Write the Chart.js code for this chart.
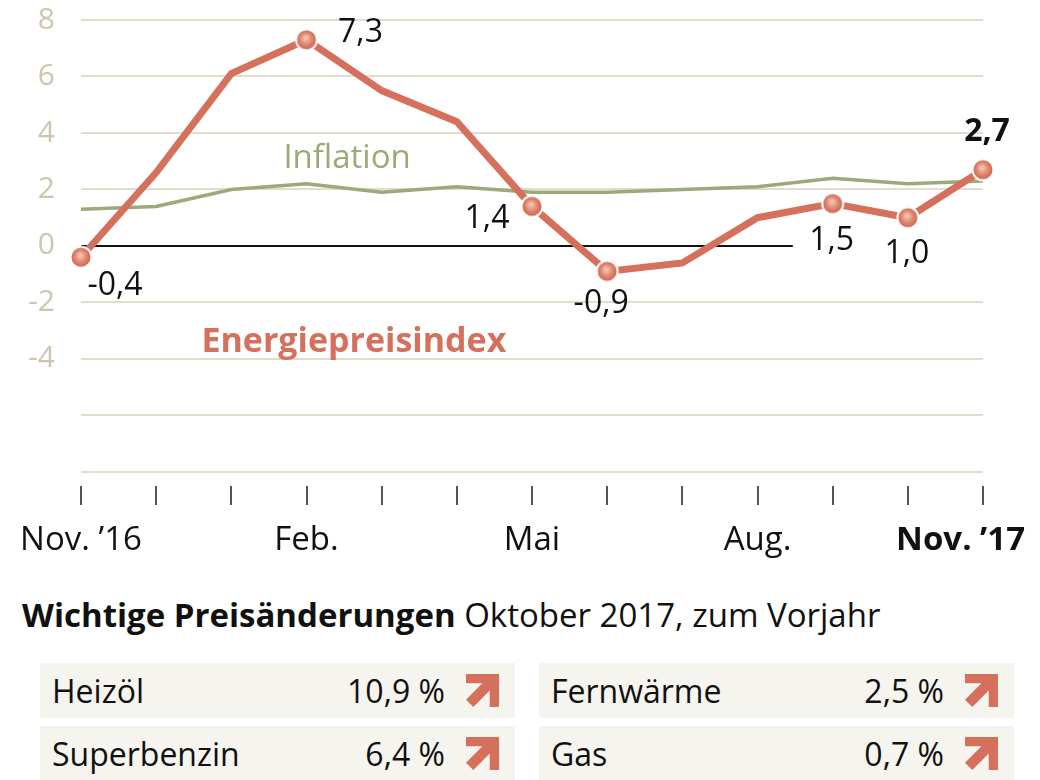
<!DOCTYPE html>
<html lang="de">
<head>
<meta charset="utf-8">
<title>Energiepreisindex</title>
<script src="https://cdn.jsdelivr.net/npm/chart.js@4.4.1/dist/chart.umd.min.js"></script>
<style>
  html, body { margin: 0; padding: 0; background: #fff; }
  body { width: 1040px; height: 780px; overflow: hidden; position: relative; font-family: 'Open Sans', sans-serif; color: #111; }
  #chartBox { position: absolute; left: 0; top: 0; width: 1040px; height: 570px; }
  #title { position: absolute; left: 22px; top: 596px; font-size: 33px; line-height: 38px; white-space: nowrap; }
  #title b { font-weight: 700; }
  .cell { position: absolute; width: 475px; height: 55px; background: #f6f4ef; font-size: 32px; }
  .cell .name { position: absolute; left: 12px; top: 0; line-height: 55px; }
  .cell .val { position: absolute; right: 70px; top: 0; line-height: 55px; }
  .cell svg { position: absolute; left: 426px; top: 11px; }
</style>
</head>
<body>
<div id="chartBox"><canvas id="chart"></canvas></div>
<div id="title"><b>Wichtige Preisänderungen</b> Oktober 2017, zum Vorjahr</div>
<div id="table"></div>
<script>
// Veränderung zum Vorjahresmonat in %
var months = ['Nov 16', 'Dez', 'Jan', 'Feb', 'Mär', 'Apr', 'Mai', 'Jun', 'Jul', 'Aug', 'Sep', 'Okt', 'Nov 17'];
var xLabels = ['Nov. ’16', '', '', 'Feb.', '', '', 'Mai', '', '', 'Aug.', '', '', 'Nov. ’17'];
var energy = [-0.4, 2.6, 6.1, 7.3, 5.5, 4.4, 1.4, -0.9, -0.6, 1.0, 1.5, 1.0, 2.7];
var inflation = [1.3, 1.4, 2.0, 2.2, 1.9, 2.1, 1.9, 1.9, 2.0, 2.1, 2.4, 2.2, 2.3];
var labeledMonths = [0, 3, 6, 7, 10, 11, 12];
var yTicks = [-8, -6, -4, -2, 0, 2, 4, 6, 8];
var yLabels = [-4, -2, 0, 2, 4, 6, 8];

// Wichtige Preisänderungen, Oktober 2017 zum Vorjahr
var priceItems = ['Heizöl', 'Superbenzin', 'Fernwärme', 'Gas'];
var priceChanges = [10.9, 6.4, 2.5, 0.7];

var red = '#d4705b';
var green = '#9baa7a';
var font = "'Open Sans', sans-serif";

function fmt(v) { return v.toFixed(1).replace('.', ','); }

// label placement next to the dots: [dx, dy, align, bold]
var labelPlace = {
    0: [34, 38, 'center'],
    3: [54, 2, 'center'],
    6: [-45, 22, 'center'],
    7: [-6, 42, 'center'],
    10: [-1, 46, 'center'],
    11: [-1, 45, 'center'],
    12: [4, -29, 'center', true]
};

function makeDot() {
    var c = document.createElement('canvas');
    c.width = 26; c.height = 26;
    var g = c.getContext('2d');
    var grad = g.createRadialGradient(12, 11, 1, 13, 13, 11);
    grad.addColorStop(0, '#f5c2b2');
    grad.addColorStop(0.5, '#e0866f');
    grad.addColorStop(1, '#c85c48');
    g.beginPath();
    g.arc(13, 13, 10.5, 0, Math.PI * 2);
    g.fillStyle = grad;
    g.fill();
    g.lineWidth = 2;
    g.strokeStyle = '#fff';
    g.stroke();
    return c;
}
var dot = makeDot();

var annotations = {
    id: 'annotations',
    beforeDatasetsDraw: function (chart) {
        var x = chart.scales.x, y = chart.scales.y, ctx = chart.ctx;
        ctx.save();
        ctx.strokeStyle = '#111';
        ctx.lineWidth = 2;
        ctx.beginPath();
        ctx.moveTo(chart.chartArea.left, y.getPixelForValue(0));
        ctx.lineTo(x.getPixelForValue(9.47), y.getPixelForValue(0));
        ctx.stroke();
        ctx.restore();
    },
    afterDatasetsDraw: function (chart) {
        var x = chart.scales.x, y = chart.scales.y, ctx = chart.ctx;
        ctx.save();
        ctx.textBaseline = 'alphabetic';

        // Werte an den Punkten
        ctx.fillStyle = '#111';
        labeledMonths.forEach(function (i) {
            var p = labelPlace[i];
            ctx.font = (p[3] ? 'bold ' : '') + '32px ' + font;
            ctx.textAlign = p[2];
            ctx.fillText(fmt(energy[i]), x.getPixelForValue(i) + p[0], y.getPixelForValue(energy[i]) + p[1]);
        });

        // Reihennamen
        ctx.textAlign = 'center';
        ctx.font = '33px ' + font;
        ctx.fillStyle = green;
        ctx.fillText('Inflation', x.getPixelForValue(3.54), y.getPixelForValue(2.76));
        ctx.font = 'bold 34px ' + font;
        ctx.fillStyle = red;
        ctx.fillText('Energiepreisindex', x.getPixelForValue(3.63), y.getPixelForValue(-3.75));

        // Monatsbeschriftung
        ctx.fillStyle = '#111';
        var base = chart.chartArea.bottom + 64;
        xLabels.forEach(function (t, i) {
            if (!t) return;
            var last = i === xLabels.length - 1;
            ctx.font = (last ? 'bold ' : '') + '33px ' + font;
            ctx.textAlign = last ? 'right' : 'center';
            ctx.fillText(t, x.getPixelForValue(i) + (last ? 42 : 0), base);
        });
        ctx.restore();
    }
};

Chart.defaults.font.family = font;

new Chart(document.getElementById('chart').getContext('2d'), {
    type: 'line',
    data: {
        labels: months,
        datasets: [{
            label: 'Energiepreisindex',
            data: energy,
            borderColor: red,
            borderWidth: 7,
            tension: 0,
            clip: false,
            pointStyle: dot,
            pointRadius: function (c) { return labeledMonths.indexOf(c.dataIndex) > -1 ? 11 : 0; },
            pointHoverRadius: function (c) { return labeledMonths.indexOf(c.dataIndex) > -1 ? 11 : 0; }
        }, {
            label: 'Inflation',
            data: inflation,
            borderColor: green,
            borderWidth: 3.5,
            tension: 0,
            pointRadius: 0,
            pointHoverRadius: 0
        }]
    },
    options: {
        responsive: true,
        maintainAspectRatio: false,
        animation: false,
        events: [],
        layout: { padding: { left: 0, right: 57, top: 20, bottom: 65 } },
        plugins: { legend: { display: false }, tooltip: { enabled: false } },
        scales: {
            x: {
                offset: false,
                border: { display: false },
                grid: { drawOnChartArea: false, drawTicks: true, tickLength: 19, lineWidth: 2, color: '#555' },
                ticks: { display: false }
            },
            y: {
                min: -8.5,
                max: 8,
                afterBuildTicks: function (scale) {
                    scale.ticks = yTicks.map(function (v) { return { value: v }; });
                },
                afterFit: function (scale) {
                    scale.width = 81;
                    scale.paddingTop = 0;
                    scale.paddingBottom = 0;
                },
                border: { display: false },
                grid: {
                    drawTicks: false,
                    lineWidth: 2,
                    color: function (c) { return c.tick && c.tick.value === 0 ? 'rgba(0,0,0,0)' : '#e2decd'; }
                },
                ticks: {
                    padding: 26,
                    color: '#cdc6af',
                    font: { size: 30 },
                    callback: function (v) { return yLabels.indexOf(v) > -1 ? String(v) : ''; }
                }
            }
        }
    },
    plugins: [annotations]
});

// Tabelle
var arrow = '<svg width="33" height="33" viewBox="0 0 32 32"><polygon points="0,0 32,0 32,32 23,32 23,16.1 7.1,32 0,24.9 15.9,9 0,9" fill="' + red + '"/></svg>';
var table = document.getElementById('table');
priceItems.forEach(function (name, k) {
    var col = Math.floor(k / 2), row = k % 2;
    var cell = document.createElement('div');
    cell.className = 'cell';
    cell.style.left = (col ? 539 : 40) + 'px';
    cell.style.top = (row ? 726 : 663) + 'px';
    cell.innerHTML = '<span class="name">' + name + '</span><span class="val">' + fmt(priceChanges[k]) + ' %</span>' + arrow;
    table.appendChild(cell);
});
</script>
</body>
</html>
